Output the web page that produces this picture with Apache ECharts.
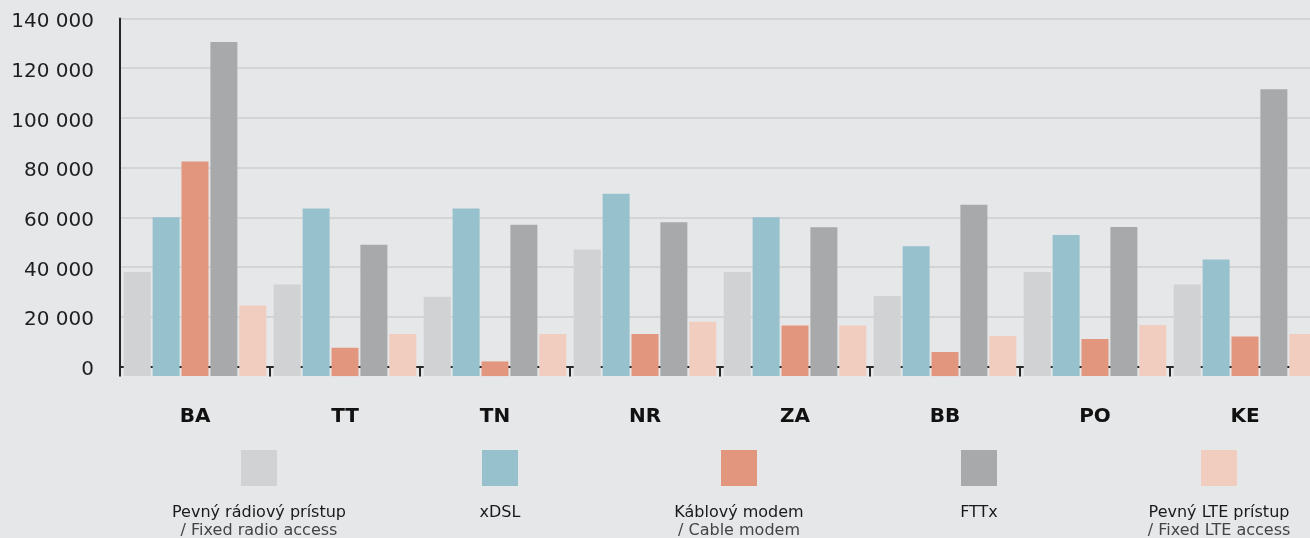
<!DOCTYPE html>
<html>
<head>
<meta charset="utf-8">
<script src="https://cdn.jsdelivr.net/npm/echarts@6/dist/echarts.min.js"></script>
<style>
    html, body { margin: 0; padding: 0; background: #e6e7e9; }
    #chartArea { width: 1310px; height: 538px; }
</style>
</head>
<body>
<div id="chartArea"></div>
<script>
//数据
var categories = ['BA', 'TT', 'TN', 'NR', 'ZA', 'BB', 'PO', 'KE'];
var radioData = [38000, 33000, 28000, 47000, 38000, 28300, 38000, 33000];
var xdslData = [60000, 63500, 63500, 69500, 60000, 48400, 52900, 43000];
var cableData = [82500, 7500, 2000, 13000, 16500, 5800, 11000, 12000];
var fttxData = [130500, 49000, 57000, 58000, 56000, 65000, 56100, 111500];
var lteData = [24500, 13000, 13000, 18000, 16500, 12200, 16700, 13000];
var yTicks = [0, 20000, 40000, 60000, 80000, 100000, 120000, 140000];

var seriesNames = ['Pevný rádiový prístup', 'xDSL', 'Káblový modem', 'FTTx', 'Pevný LTE prístup'];
var seriesSubNames = ['/ Fixed radio access', '', '/ Cable modem', '', '/ Fixed LTE access'];
var seriesColors = ['#d1d2d4', '#98c1ce', '#e3967e', '#a8a9ab', '#f0cdbf'];
var seriesData = [radioData, xdslData, cableData, fttxData, lteData];

var dom = document.getElementById('chartArea');
var myChart = echarts.init(dom, null, {renderer: 'canvas'});

function fmt(v) {
    return String(v).replace(/\B(?=(\d{3})+(?!\d))/g, ' ');
}

var series = [];
for (var i = 0; i < seriesData.length; i++) {
    series.push({
        name: seriesNames[i],
        type: 'bar',
        data: seriesData[i],
        barWidth: 27,
        barGap: '7%',
        clip: false,
        itemStyle: {color: seriesColors[i]}
    });
}

//图例 (方块在上，文字在下)
var legendCenters = [259, 500, 739, 979, 1219];
var graphics = [];
for (var j = 0; j < seriesNames.length; j++) {
    graphics.push({
        type: 'rect',
        left: legendCenters[j] - 18,
        top: 450,
        shape: {width: 36, height: 36},
        style: {fill: seriesColors[j]}
    });
    graphics.push({
        type: 'text',
        x: legendCenters[j],
        y: 513,
        style: {
            text: seriesNames[j],
            fill: '#1a1a1a',
            font: '16px "DejaVu Sans"',
            align: 'center',
            verticalAlign: 'middle'
        }
    });
    if (seriesSubNames[j]) {
        graphics.push({
            type: 'text',
            x: legendCenters[j],
            y: 531,
            style: {
                text: seriesSubNames[j],
                fill: '#444',
                font: '16px "DejaVu Sans"',
                align: 'center',
                verticalAlign: 'middle'
            }
        });
    }
}

var option = {
    backgroundColor: '#e6e7e9',
    animation: false,
    grid: {
        left: 120,
        right: -10,
        top: 18.5,
        bottom: 171.6,
        outerBoundsMode: 'none',
        containLabel: false
    },
    xAxis: [
        {
            type: 'category',
            data: categories,
            position: 'bottom',
            offset: 10,
            axisLine: {lineStyle: {color: '#262626', width: 2}},
            axisTick: {show: true, length: 9, lineStyle: {color: '#262626', width: 2}},
            axisLabel: {
                margin: 30,
                fontFamily: 'DejaVu Sans',
                fontWeight: 'bold',
                fontSize: 20,
                color: '#111'
            }
        },
        {
            type: 'category',
            data: categories,
            position: 'bottom',
            offset: 10,
            axisLine: {show: false},
            axisTick: {show: true, inside: true, length: 9, lineStyle: {color: '#262626', width: 2}},
            axisLabel: {show: false}
        }
    ],
    yAxis: {
        type: 'value',
        min: yTicks[0],
        max: yTicks[yTicks.length - 1],
        interval: yTicks[1] - yTicks[0],
        startValue: -3900,
        axisLine: {show: true, lineStyle: {color: '#262626', width: 2}},
        axisTick: {show: false},
        splitLine: {show: true, showMinLine: false, lineStyle: {color: '#d3d4d6', width: 2}},
        axisLabel: {
            margin: 26,
            formatter: function (v) { return '{a|' + fmt(v) + '}'; },
            rich: {
                a: {
                    fontFamily: 'DejaVu Sans',
                    fontSize: 20,
                    color: '#1f1f1f',
                    padding: [7, 0, 0, 0]
                }
            }
        }
    },
    series: series,
    graphic: graphics
};

function setEchartOption(opt) {
    if (opt && typeof opt === 'object') {
        myChart.setOption(opt, true);
    }
}
setEchartOption(option);
</script>
</body>
</html>
